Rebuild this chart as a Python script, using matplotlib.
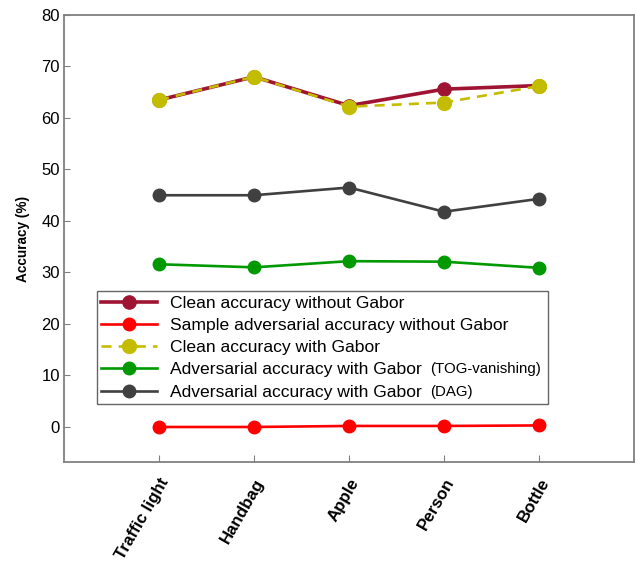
import matplotlib
matplotlib.use("Agg")
import matplotlib.pyplot as plt

plt.rcParams['font.family'] = ['Liberation Sans', 'DejaVu Sans']

categories = ["Traffic light", "Handbag", "Apple", "Person", "Bottle"]
clean_no_gabor = [63.5, 68.0, 62.4, 65.6, 66.3]
adv_no_gabor = [0.0, 0.0, 0.2, 0.2, 0.3]
clean_gabor = [63.5, 68.0, 62.2, 63.0, 66.2]
adv_gabor_tog = [31.6, 31.0, 32.2, 32.1, 30.9]
adv_gabor_dag = [45.0, 45.0, 46.5, 41.8, 44.3]
yticks = [0, 10, 20, 30, 40, 50, 60, 70, 80]

x = list(range(1, len(categories) + 1))

fig = plt.figure(figsize=(6.36, 5.64), dpi=100)
ax = fig.add_axes([64 / 636, (564 - 462) / 564, (634 - 64) / 636, (462 - 15) / 564])

ax.plot(x, clean_no_gabor, '-o', color='#A01433', lw=2.6, ms=9.5,
        label='Clean accuracy without Gabor', zorder=3)
# trailing spaces widen the legend box to fit the small annotations
ax.plot(x, adv_no_gabor, '-o', color='#FF0000', lw=1.9, ms=9,
        label='Sample adversarial accuracy without Gabor       ', zorder=3)
ax.plot(x, clean_gabor, '--o', color='#C4BC00', lw=1.9, ms=10,
        dashes=(3.8, 2.7), label='Clean accuracy with Gabor', zorder=4)
ax.plot(x, adv_gabor_tog, '-o', color='#009900', lw=1.9, ms=9,
        label='Adversarial accuracy with Gabor', zorder=3)
ax.plot(x, adv_gabor_dag, '-o', color='#404040', lw=1.9, ms=9,
        label='Adversarial accuracy with Gabor', zorder=3)

ax.set_xlim(0, 6)
ax.set_ylim(-6.8, 80)
ax.set_yticks(yticks)
ax.set_xticks(x)
ax.set_xticklabels(categories, rotation=60, ha='right', rotation_mode='anchor',
                   fontsize=12.2, fontweight='bold')
ax.tick_params(axis='y', direction='in', length=4, labelsize=12, color='#808080',
               pad=3)
ax.tick_params(axis='x', direction='in', length=5, color='#808080', pad=10)
for s in ax.spines.values():
    s.set_color('#808080')
    s.set_linewidth(1.3)
ax.set_ylabel('Accuracy (%)', fontsize=9.8, fontweight='bold', labelpad=8)

leg = ax.legend(loc='upper left', bbox_to_anchor=(33 / 570, (462 - 291) / 447),
                fontsize=12.6, frameon=True, fancybox=False, edgecolor='#404040',
                handlelength=3.2, handletextpad=0.75, borderpad=0.25,
                labelspacing=0.4, borderaxespad=0)
leg.get_frame().set_linewidth(1.0)

texts = leg.get_texts()
for t, extra in ((texts[3], '(TOG-vanishing)'), (texts[4], '(DAG)')):
    ax.annotate(extra, xy=(1, 0), xycoords=t, xytext=(5.5, 0.8),
                textcoords='offset points', fontsize=10.8, va='bottom', ha='left',
                zorder=10)

fig.savefig('out.png', dpi=100)
